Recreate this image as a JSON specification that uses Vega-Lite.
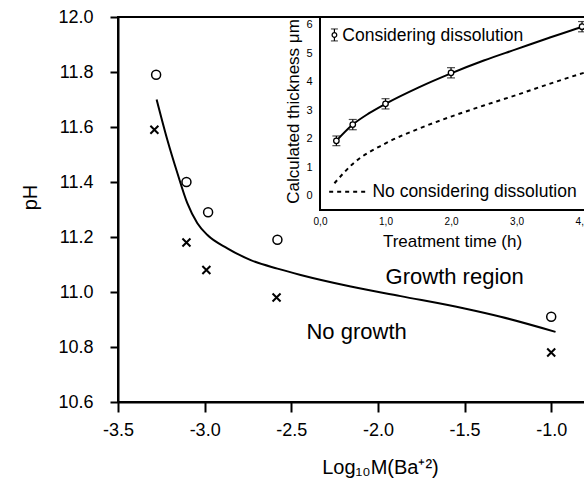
{
  "$schema": "https://vega.github.io/schema/vega-lite/v6.json",
  "width": 467,
  "height": 385,
  "autosize": {"type": "none"},
  "padding": {"left": 118, "top": 17, "right": 0, "bottom": 77},
  "background": "white",
  "config": {
    "font": "Liberation Sans",
    "view": {"stroke": "black", "strokeWidth": 2},
    "axis": {
      "grid": false,
      "labelColor": "black",
      "titleColor": "black",
      "domainColor": "black",
      "tickColor": "black",
      "titleFontWeight": "normal",
      "labelFont": "Liberation Sans",
      "titleFont": "Liberation Sans",
      "labelFlush": false,
      "labelOverlap": false
    }
  },
  "datasets": {
    "circles": [
      {"logM": -3.28, "pH": 11.79},
      {"logM": -3.105, "pH": 11.40},
      {"logM": -2.98, "pH": 11.29},
      {"logM": -2.58, "pH": 11.19},
      {"logM": -1.0, "pH": 10.91}
    ],
    "crosses": [
      {"logM": -3.29, "pH": 11.59},
      {"logM": -3.105, "pH": 11.18},
      {"logM": -2.99, "pH": 11.08},
      {"logM": -2.585, "pH": 10.98},
      {"logM": -1.0, "pH": 10.78}
    ],
    "boundary": [
      {"logM": -3.277, "pH": 11.70},
      {"logM": -3.215, "pH": 11.553},
      {"logM": -3.157, "pH": 11.432},
      {"logM": -3.100, "pH": 11.323},
      {"logM": -3.042, "pH": 11.25},
      {"logM": -2.984, "pH": 11.207},
      {"logM": -2.869, "pH": 11.159},
      {"logM": -2.734, "pH": 11.116},
      {"logM": -2.58, "pH": 11.085},
      {"logM": -2.446, "pH": 11.062},
      {"logM": -2.157, "pH": 11.02},
      {"logM": -1.869, "pH": 10.985},
      {"logM": -1.5, "pH": 10.94},
      {"logM": -1.292, "pH": 10.91},
      {"logM": -0.975, "pH": 10.855}
    ],
    "regions": [
      {"logM": -1.557, "pH": 11.055, "label": "Growth region"},
      {"logM": -2.123, "pH": 10.853, "label": "No growth"}
    ],
    "measured": [
      {"t": 0.25, "th": 1.93, "lo": 1.76, "hi": 2.10},
      {"t": 0.5, "th": 2.5, "lo": 2.32, "hi": 2.68},
      {"t": 1.0, "th": 3.23, "lo": 3.05, "hi": 3.41},
      {"t": 2.0, "th": 4.32, "lo": 4.14, "hi": 4.50},
      {"t": 4.0, "th": 5.94, "lo": 5.76, "hi": 6.12}
    ],
    "withDiss": [
      {"t": 0.25, "th": 1.93},
      {"t": 0.5, "th": 2.5},
      {"t": 0.75, "th": 2.9},
      {"t": 1.0, "th": 3.23},
      {"t": 1.5, "th": 3.8},
      {"t": 2.0, "th": 4.3},
      {"t": 2.5, "th": 4.75},
      {"t": 3.0, "th": 5.15},
      {"t": 3.5, "th": 5.55},
      {"t": 4.0, "th": 5.93},
      {"t": 4.2, "th": 6.07}
    ],
    "noDiss": [
      {"t": 0.22, "th": 0.44},
      {"t": 0.5, "th": 1.12},
      {"t": 1.0, "th": 1.84},
      {"t": 1.5, "th": 2.35},
      {"t": 2.0, "th": 2.78},
      {"t": 2.5, "th": 3.17},
      {"t": 3.0, "th": 3.54},
      {"t": 3.5, "th": 3.93},
      {"t": 4.0, "th": 4.3},
      {"t": 4.2, "th": 4.44}
    ]
  },
  "layer": [
    {
      "layer": [
        {
          "data": {"name": "boundary"},
          "mark": {"type": "line", "color": "black", "strokeWidth": 2, "interpolate": "monotone"},
          "encoding": {
            "x": {
              "field": "logM", "type": "quantitative",
              "scale": {"domain": [-3.5, -0.805], "nice": false, "zero": false},
              "axis": {
                "values": [-3.5, -3.0, -2.5, -2.0, -1.5, -1.0],
                "labelExpr": "replace(format(datum.value, '.1f'), '\u2212', '-')",
                "tickSize": 10, "tickWidth": 2, "domainWidth": 2,
                "labelFontSize": 18, "labelPadding": 9,
                "title": "Log\u2081\u2080M(Ba\u207a\u00b2)",
                "titleFontSize": 20, "titleX": 262, "titleY": 71,
                "titleBaseline": "alphabetic", "titleAlign": "center"
              }
            },
            "y": {
              "field": "pH", "type": "quantitative",
              "scale": {"domain": [10.6, 12.0], "nice": false, "zero": false},
              "axis": {
                "values": [10.6, 10.8, 11.0, 11.2, 11.4, 11.6, 11.8, 12.0],
                "format": ".1f",
                "tickSize": 8, "tickWidth": 2, "domainWidth": 2,
                "labelFontSize": 18, "labelPadding": 17,
                "title": "pH", "titleFontSize": 20,
                "titleX": -88, "titleY": 180, "titleAngle": -90,
                "titleBaseline": "middle", "titleAlign": "center"
              }
            }
          }
        },
        {
          "data": {"name": "circles"},
          "mark": {"type": "point", "shape": "circle", "filled": false, "color": "black", "strokeWidth": 1.5, "size": 81, "opacity": 1},
          "encoding": {
            "x": {"field": "logM", "type": "quantitative"},
            "y": {"field": "pH", "type": "quantitative"}
          }
        },
        {
          "data": {"name": "crosses"},
          "mark": {"type": "point", "shape": "M-1,-1L1,1M1,-1L-1,1", "filled": false, "color": "black", "strokeWidth": 2, "size": 64, "opacity": 1},
          "encoding": {
            "x": {"field": "logM", "type": "quantitative"},
            "y": {"field": "pH", "type": "quantitative"}
          }
        },
        {
          "data": {"name": "regions"},
          "mark": {"type": "text", "fontSize": 22, "color": "black", "align": "center", "baseline": "middle", "font": "Liberation Sans"},
          "encoding": {
            "x": {"field": "logM", "type": "quantitative"},
            "y": {"field": "pH", "type": "quantitative"},
            "text": {"field": "label"}
          }
        }
      ]
    },
    {
      "layer": [
        {
          "data": {"values": [{"t0": 0, "t1": 4.3, "y0": -0.5, "y1": 6.28}]},
          "mark": {"type": "rect", "fill": "white", "stroke": "black", "strokeWidth": 2},
          "encoding": {
            "x": {
              "field": "t0", "type": "quantitative",
              "scale": {"domain": [0, 4.3], "range": [202, 483.7], "nice": false, "zero": false},
              "axis": {
                "orient": "bottom", "offset": -192, "zindex": 2,
                "values": [0, 1, 2, 3, 4],
                "labelExpr": "replace(format(datum.value, '.1f'), '.', ',')",
                "domain": false, "ticks": false, "tickSize": 0,
                "labelFontSize": 10, "labelPadding": 6,
                "title": "Treatment time (h)", "titleFontSize": 17,
                "titleX": 334, "titleY": 31, "titleBaseline": "middle", "titleAlign": "center"
              }
            },
            "x2": {"field": "t1"},
            "y": {
              "field": "y0", "type": "quantitative",
              "scale": {"domain": [-0.5, 6.28], "range": [193, 0], "nice": false, "zero": false},
              "axis": {
                "orient": "left", "offset": -202, "zindex": 2,
                "values": [0, 1, 2, 3, 4, 5, 6],
                "format": "d",
                "domain": false, "ticks": false, "tickSize": 0,
                "labelFontSize": 11, "labelPadding": 8, "labelAlign": "right",
                "title": "Calculated thickness \u03bcm", "titleFontSize": 17,
                "titleX": -27, "titleY": 94, "titleAngle": -90,
                "titleBaseline": "middle", "titleAlign": "center"
              }
            },
            "y2": {"field": "y1"}
          }
        },
        {
          "data": {"name": "noDiss"},
          "mark": {"type": "line", "color": "black", "strokeWidth": 2, "strokeDash": [4, 4], "interpolate": "monotone"},
          "encoding": {
            "x": {"field": "t", "type": "quantitative"},
            "y": {"field": "th", "type": "quantitative"}
          }
        },
        {
          "data": {"name": "withDiss"},
          "mark": {"type": "line", "color": "black", "strokeWidth": 2, "interpolate": "monotone"},
          "encoding": {
            "x": {"field": "t", "type": "quantitative"},
            "y": {"field": "th", "type": "quantitative"}
          }
        },
        {
          "data": {"name": "measured"},
          "mark": {"type": "rule", "color": "black", "strokeWidth": 1.2},
          "encoding": {
            "x": {"field": "t", "type": "quantitative"},
            "y": {"field": "lo", "type": "quantitative"},
            "y2": {"field": "hi"}
          }
        },
        {
          "data": {"name": "measured"},
          "mark": {"type": "tick", "orient": "horizontal", "color": "black", "thickness": 1.2, "size": 8},
          "encoding": {
            "x": {"field": "t", "type": "quantitative"},
            "y": {"field": "lo", "type": "quantitative"}
          }
        },
        {
          "data": {"name": "measured"},
          "mark": {"type": "tick", "orient": "horizontal", "color": "black", "thickness": 1.2, "size": 8},
          "encoding": {
            "x": {"field": "t", "type": "quantitative"},
            "y": {"field": "hi", "type": "quantitative"}
          }
        },
        {
          "data": {"name": "measured"},
          "mark": {"type": "point", "shape": "circle", "filled": true, "fill": "white", "stroke": "black", "strokeWidth": 1.3, "size": 30, "opacity": 1},
          "encoding": {
            "x": {"field": "t", "type": "quantitative"},
            "y": {"field": "th", "type": "quantitative"}
          }
        },
        {
          "data": {"values": [{"t": 0.22, "lo": 5.44, "hi": 5.86, "th": 5.65}]},
          "layer": [
            {
              "mark": {"type": "rule", "color": "black", "strokeWidth": 1.2},
              "encoding": {
                "x": {"field": "t", "type": "quantitative"},
                "y": {"field": "lo", "type": "quantitative"},
                "y2": {"field": "hi"}
              }
            },
            {
              "mark": {"type": "tick", "orient": "horizontal", "color": "black", "thickness": 1.2, "size": 7},
              "encoding": {
                "x": {"field": "t", "type": "quantitative"},
                "y": {"field": "lo", "type": "quantitative"}
              }
            },
            {
              "mark": {"type": "tick", "orient": "horizontal", "color": "black", "thickness": 1.2, "size": 7},
              "encoding": {
                "x": {"field": "t", "type": "quantitative"},
                "y": {"field": "hi", "type": "quantitative"}
              }
            },
            {
              "mark": {"type": "point", "shape": "circle", "filled": true, "fill": "white", "stroke": "black", "strokeWidth": 1.2, "size": 22, "opacity": 1},
              "encoding": {
                "x": {"field": "t", "type": "quantitative"},
                "y": {"field": "th", "type": "quantitative"}
              }
            }
          ]
        },
        {
          "data": {"values": [{"t": 0.14, "t2": 0.69, "th": 0.14}]},
          "mark": {"type": "rule", "color": "black", "strokeWidth": 2, "strokeDash": [4, 4]},
          "encoding": {
            "x": {"field": "t", "type": "quantitative"},
            "x2": {"field": "t2"},
            "y": {"field": "th", "type": "quantitative"}
          }
        },
        {
          "data": {"values": [
            {"t": 0.34, "th": 5.62, "label": "Considering dissolution"},
            {"t": 0.80, "th": 0.14, "label": "No considering dissolution"}
          ]},
          "mark": {"type": "text", "fontSize": 17.5, "color": "black", "align": "left", "baseline": "middle", "font": "Liberation Sans"},
          "encoding": {
            "x": {"field": "t", "type": "quantitative"},
            "y": {"field": "th", "type": "quantitative"},
            "text": {"field": "label"}
          }
        }
      ]
    }
  ],
  "resolve": {
    "scale": {"x": "independent", "y": "independent"},
    "axis": {"x": "independent", "y": "independent"}
  }
}
